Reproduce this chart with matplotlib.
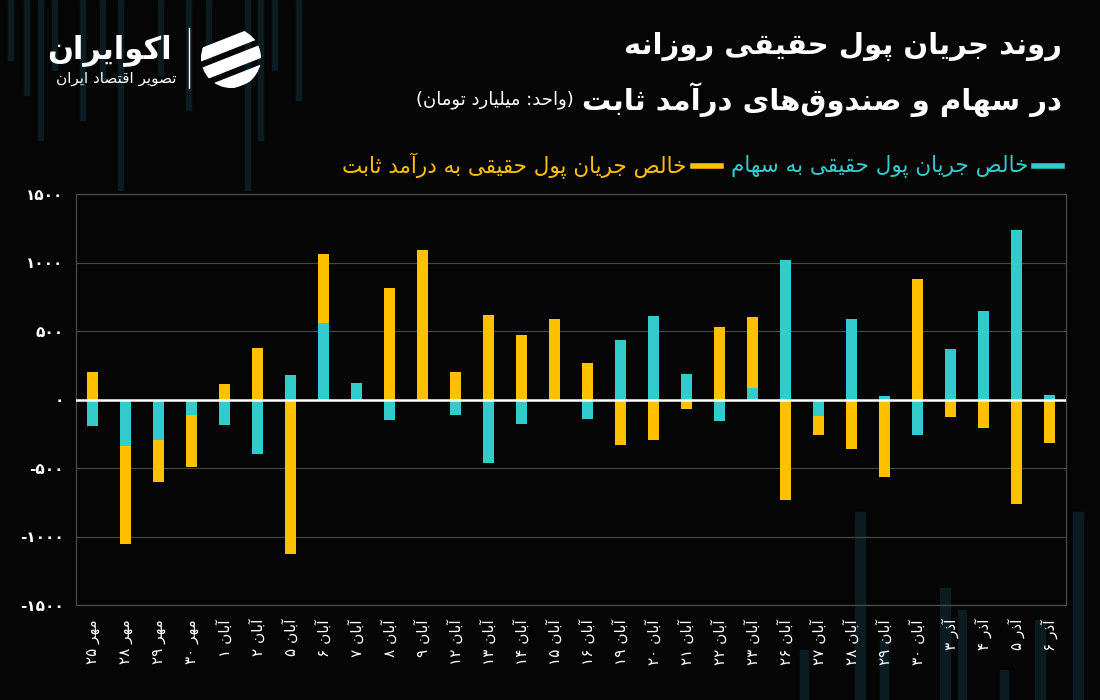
import re
import matplotlib
matplotlib.use("Agg")
import matplotlib.pyplot as plt
import numpy as np
from matplotlib.patches import Rectangle, Circle, Polygon
from matplotlib.lines import Line2D

# data (billion toman)
dates = ["مهر ۲۵", "مهر ۲۸", "مهر ۲۹", "مهر ۳۰", "آبان ۱", "آبان ۲", "آبان ۵", "آبان ۶",
         "آبان ۷", "آبان ۸", "آبان ۹", "آبان ۱۲", "آبان ۱۳", "آبان ۱۴", "آبان ۱۵", "آبان ۱۶",
         "آبان ۱۹", "آبان ۲۰", "آبان ۲۱", "آبان ۲۲", "آبان ۲۳", "آبان ۲۶", "آبان ۲۷", "آبان ۲۸",
         "آبان ۲۹", "آبان ۳۰", "آذر ۳", "آذر ۴", "آذر ۵", "آذر ۶"]
stock = [-190, -342, -293, -115, -183, -395, 176, 561, 122, -151, 0, -110, -464, -178, 0,
         -139, 434, 612, 188, -154, 85, 1017, -122, 588, 24, -256, 368, 647, 1237, 34]
fixed = [200, -712, -310, -375, 110, 373, -1130, 500, 0, 817, 1091, 203, 620, 473, 586,
         268, -334, -293, -71, 527, 520, -732, -134, -359, -566, 876, -129, -207, -764, -320]
yticks = [-1500, -1000, -500, 0, 500, 1000, 1500]

title1 = "روند جریان پول حقیقی روزانه"
title2 = "در سهام و صندوق\u200cهای درآمد ثابت"
unit = "(واحد: میلیارد تومان)"
leg_stock = "خالص جریان پول حقیقی به سهام"
leg_fixed = "خالص جریان پول حقیقی به درآمد ثابت"
logo1 = "اکوایران"
logo2 = "تصویر اقتصاد ایران"

CYAN = "#33CCCC"
YELLOW = "#FFC000"
BG = "#050505"

# --- minimal persian shaping (no reshaper lib available) ---
DUAL = {'ب': 0xFE8F, 'پ': 0xFB56, 'ت': 0xFE95, 'ث': 0xFE99, 'ج': 0xFE9D, 'چ': 0xFB7A,
        'ح': 0xFEA1, 'خ': 0xFEA5, 'س': 0xFEB1, 'ش': 0xFEB5, 'ص': 0xFEB9, 'ض': 0xFEBD,
        'ط': 0xFEC1, 'ظ': 0xFEC5, 'ع': 0xFEC9, 'غ': 0xFECD, 'ف': 0xFED1, 'ق': 0xFED5,
        'ک': 0xFB8E, 'گ': 0xFB92, 'ل': 0xFEDD, 'م': 0xFEE1, 'ن': 0xFEE5, 'ه': 0xFEE9,
        'ی': 0xFBFC}
RIGHT = {'ا': 0xFE8D, 'آ': 0xFE81, 'د': 0xFEA9, 'ذ': 0xFEAB, 'ر': 0xFEAD, 'ز': 0xFEAF,
         'ژ': 0xFB8A, 'و': 0xFEED}


def fa(s):
    out = []
    for i, ch in enumerate(s):
        if ch not in DUAL and ch not in RIGHT:
            if ch != '\u200c':
                out.append(ch)
            continue
        prev = s[i - 1] if i > 0 else ''
        nxt = s[i + 1] if i < len(s) - 1 else ''
        jp = prev in DUAL
        jn = ch in DUAL and (nxt in DUAL or nxt in RIGHT)
        if ch in DUAL:
            off = 3 if (jp and jn) else 1 if jp else 2 if jn else 0
            out.append(chr(DUAL[ch] + off))
        else:
            out.append(chr(RIGHT[ch] + (1 if jp else 0)))
    vis = "".join(out[::-1])
    vis = re.sub(r'[0-9۰-۹]+', lambda m: m.group(0)[::-1], vis)
    return vis.translate(str.maketrans("()", ")("))


def fa_num(v):
    return str(v).translate(str.maketrans("0123456789", "۰۱۲۳۴۵۶۷۸۹"))


plt.rcParams['font.family'] = ['DejaVu Sans']

W, H = 1100, 700
fig = plt.figure(figsize=(11, 7), dpi=100, facecolor=BG)


def P(x, y):
    return x / W, 1 - y / H


# faint decorative stripes in the background
deco = [(8, 0, 60, 5), (24, 0, 95, 5), (38, 0, 140, 5), (52, 0, 70, 5), (80, 0, 120, 5),
        (100, 0, 80, 5), (118, 0, 190, 5), (158, 0, 75, 5), (186, 0, 110, 5), (206, 0, 60, 5),
        (245, 0, 190, 5), (258, 0, 140, 5), (272, 0, 70, 5), (296, 0, 100, 5),
        (855, 512, 700, 10), (940, 588, 700, 10), (1073, 512, 700, 10), (1035, 620, 700, 10),
        (880, 640, 700, 8), (800, 650, 700, 8), (958, 610, 700, 8), (1000, 670, 700, 8)]
for x0, y0, y1, w in deco:
    fig.patches.append(Rectangle((x0 / W, 1 - y1 / H), w / W, (y1 - y0) / H,
                                 transform=fig.transFigure, color="#0a1c22",
                                 zorder=-5))

ax = fig.add_axes([76 / W, 1 - 605 / H, 990 / W, 411 / H])
ax.set_facecolor("none")
ax.set_zorder(2)

x = np.arange(len(dates))
stock_a = np.array(stock)
fixed_a = np.array(fixed)
bottom = np.where(np.sign(stock_a) == np.sign(fixed_a), stock_a, 0)
ax.bar(x, stock_a, width=0.31, color=CYAN, zorder=3)
ax.bar(x, fixed_a, width=0.31, bottom=bottom, color=YELLOW, zorder=3)

ax.set_xlim(-0.5, len(dates) - 0.5)
ax.set_ylim(-1500, 1500)
ax.set_yticks(yticks)
ax.set_yticklabels([fa_num(v) for v in yticks], color="white", fontsize=11, fontweight="bold")
ax.set_xticks(x)
ax.set_xticklabels([fa(d) for d in dates], rotation=90, color="white", fontsize=11,
                   va="top")
ax.tick_params(length=0)
ax.tick_params(axis="y", pad=9)
ax.tick_params(axis="x", pad=10)
ax.grid(axis="y", color="#444444", lw=0.9, zorder=1)
ax.axhline(0, color="white", lw=1.8, zorder=4)
for sp in ax.spines.values():
    sp.set_color("#4a4a4a")
    sp.set_linewidth(0.9)

r = fig.canvas.get_renderer()

# title
fig.text(*P(1062, 46), fa(title1), ha="right", va="center", color="white",
         fontsize=21, fontweight="bold")
t2 = fig.text(*P(1062, 100), fa(title2), ha="right", va="center", color="white",
              fontsize=21, fontweight="bold")
bb = t2.get_window_extent(r)
fig.text((bb.x0 - 8) / W, 1 - 100 / H, fa(unit), ha="right", va="center",
         color="white", fontsize=13)

# legend (right to left)
xr = 1062
ly = 166
fig.lines.append(Line2D([(xr - 28) / W, xr / W], [1 - ly / H] * 2, transform=fig.transFigure,
                        color=CYAN, lw=4))
l1 = fig.text((xr - 34) / W, 1 - ly / H, fa(leg_stock), ha="right", va="center",
              color=CYAN, fontsize=15.5)
bb = l1.get_window_extent(r)
x2 = bb.x0 - 10
fig.lines.append(Line2D([(x2 - 28) / W, x2 / W], [1 - ly / H] * 2, transform=fig.transFigure,
                        color=YELLOW, lw=4))
fig.text((x2 - 34) / W, 1 - ly / H, fa(leg_fixed), ha="right", va="center",
         color=YELLOW, fontsize=15.5)

# logo
fig.text(*P(172, 50), fa(logo1), ha="right", va="center", color="white", fontsize=22,
         fontweight="bold")
fig.text(*P(176, 79), fa(logo2), ha="right", va="center", color="white", fontsize=11)
fig.lines.append(Line2D([189 / W, 189 / W], [1 - 28 / H, 1 - 88 / H],
                        transform=fig.transFigure, color="white", lw=1))
clip = Circle((231, H - 58), 30, transform=None)
for k in range(3):
    yy = 30 + k * 20
    poly = Polygon([P(198, yy + 20), P(264, yy - 6), P(264, yy + 6), P(198, yy + 32)],
                   closed=True, transform=fig.transFigure, color="white")
    poly.set_clip_path(clip)
    fig.patches.append(poly)

fig.savefig("out.png", dpi=100, facecolor=BG)
